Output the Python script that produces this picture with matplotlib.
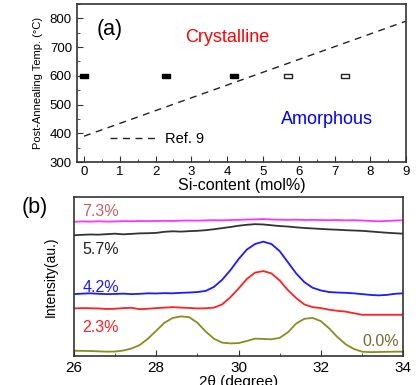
import matplotlib
matplotlib.use("Agg")
import matplotlib.pyplot as plt
from matplotlib import font_manager
from matplotlib.ticker import MultipleLocator

plt.rcParams['font.family'] = ['Liberation Sans', 'DejaVu Sans']

# ---- panel (a) data ----
si_cryst = [0.0, 2.3, 4.2]
t_cryst = [600, 600, 600]
si_amor = [5.7, 7.3]
t_amor = [600, 600]
ref_x = [0, 9]
ref_y = [390, 790]

# ---- panel (b) data ----
two_theta = [26.0, 26.2, 26.4, 26.6, 26.8, 27.0, 27.2, 27.4, 27.6, 27.8,
             28.0, 28.2, 28.4, 28.6, 28.8, 29.0, 29.2, 29.4, 29.6, 29.8,
             30.0, 30.2, 30.4, 30.6, 30.8, 31.0, 31.2, 31.4, 31.6, 31.8,
             32.0, 32.2, 32.4, 32.6, 32.8, 33.0, 33.2, 33.4, 33.6, 33.8, 34.0]
i_00 = [3.4, 3.3, 3.2, 3.0, 2.8, 2.9, 3.5, 4.8, 7.0, 11.0,
        16.0, 21.0, 24.0, 25.0, 24.5, 21.0, 15.5, 11.0, 8.5, 8.0,
        8.2, 9.5, 11.0, 10.8, 10.6, 11.5, 15.0, 20.5, 23.5, 24.0,
        22.0, 17.5, 12.0, 7.5, 4.5, 2.8, 2.5, 2.6, 2.7, 2.8, 2.8]
i_23 = [30.0, 30.2, 30.1, 30.0, 29.6, 29.8, 30.2, 30.4, 29.5, 29.8,
        30.2, 30.5, 30.8, 30.5, 30.3, 30.0, 30.1, 30.5, 32.5, 37.0,
        42.5, 48.5, 52.5, 53.5, 52.0, 47.5, 41.5, 36.5, 32.5, 30.8,
        30.2, 29.2, 28.5, 28.0, 27.0, 26.0, 26.0, 26.0, 26.0, 26.0, 26.0]
i_42 = [39.0, 39.3, 39.5, 39.2, 39.0, 39.1, 39.3, 39.0, 39.2, 39.5,
        39.4, 39.6, 39.5, 39.8, 40.0, 40.3, 41.0, 43.5, 48.0, 54.0,
        61.0, 67.0, 70.5, 72.0, 70.5, 66.0, 59.0, 52.0, 46.5, 43.0,
        41.3, 40.3, 40.0, 39.8, 39.5, 39.0, 38.5, 38.2, 38.5, 39.2, 39.5]
i_57 = [76.0, 76.3, 76.5, 76.4, 76.7, 77.0, 76.6, 76.9, 77.2, 77.3,
        77.5, 78.2, 78.5, 78.3, 78.6, 78.8, 79.2, 79.8, 80.5, 81.2,
        82.0, 82.6, 83.0, 82.8, 82.3, 81.8, 81.5, 81.0, 80.6, 80.3,
        80.0, 79.7, 79.5, 79.2, 79.0, 78.8, 78.4, 78.0, 77.6, 77.3, 77.0]
i_73 = [84.5, 84.7, 84.6, 84.8, 84.6, 84.7, 84.9, 84.8, 85.0, 84.9,
        85.0, 85.1, 85.0, 85.2, 85.3, 85.2, 85.4, 85.5, 85.4, 85.6,
        85.7, 85.9, 86.0, 86.2, 85.9, 85.8, 85.7, 85.8, 85.6, 85.7,
        85.6, 85.5, 85.6, 85.4, 85.5, 85.3, 85.0, 84.8, 85.0, 85.3, 85.4]
labels_b = ["0.0%", "2.3%", "4.2%", "5.7%", "7.3%"]

names = {f.name for f in font_manager.fontManager.ttflist}
if 'Liberation Sans Narrow' in names:
    ylab_font = dict(family=['Liberation Sans Narrow', 'DejaVu Sans'], fontsize=9.5)
else:
    ylab_font = dict(fontsize=8)

fig = plt.figure(figsize=(4.2, 3.85), dpi=100)
frame_c = '#333333'

# ---------------- (a) ----------------
ax1 = fig.add_axes([0.183, 0.579, 0.784, 0.411])
rect = [(-1.7, -1), (1.7, -1), (1.7, 1), (-1.7, 1), (-1.7, -1)]
ax1.plot(ref_x, ref_y, ls=(0, (5, 4)), color='#222222', lw=1.0, label='Ref. 9')
ax1.plot(si_cryst, t_cryst, ls='none', marker=rect, ms=5.5, color='black')
ax1.plot(si_amor, t_amor, ls='none', marker=rect, ms=5.5, mfc='white',
         mec='#222222', mew=1.0)
ax1.set_xlim(-0.2, 9)
ax1.set_ylim(300, 850)
ax1.xaxis.set_major_locator(MultipleLocator(1))
ax1.xaxis.set_minor_locator(MultipleLocator(0.5))
ax1.yaxis.set_major_locator(MultipleLocator(100))
ax1.yaxis.set_minor_locator(MultipleLocator(50))
ax1.tick_params(which='both', direction='in', labelsize=9.5, color=frame_c)
ax1.tick_params(which='major', length=4)
ax1.tick_params(which='minor', length=2.5)
ax1.tick_params(axis='x', pad=3)
for s in ax1.spines.values():
    s.set_linewidth(1.2)
    s.set_color(frame_c)
ax1.set_xlabel('Si-content (mol%)', fontsize=11.5, labelpad=0)
ax1.set_ylabel('Post-Annealing Temp. (\u00b0C)', labelpad=5, **ylab_font)
ax1.text(0.72, 762, '(a)', fontsize=15.5, ha='center', va='center')
ax1.text(4.0, 733, 'Crystalline', fontsize=13, color='#ff0000', ha='center', va='center')
ax1.text(6.8, 447, 'Amorphous', fontsize=13, color='#0000ff', ha='center', va='center')
leg = ax1.legend(loc='lower left', bbox_to_anchor=(0.06, 0.02), frameon=False,
                 fontsize=10.5, handlelength=3.2, handletextpad=0.6)

# ---------------- (b) ----------------
ax2 = fig.add_axes([0.176, 0.075, 0.784, 0.413])
ax2.plot(two_theta, i_00, color='#8b8b1e', lw=1.3)
ax2.plot(two_theta, i_23, color='#ff2020', lw=1.3)
ax2.plot(two_theta, i_42, color='#1a1aff', lw=1.3)
ax2.plot(two_theta, i_57, color='#333333', lw=1.3)
ax2.plot(two_theta, i_73, color='#ff33ff', lw=1.3)
ax2.set_xlim(26, 34)
ax2.set_ylim(0, 100)
ax2.xaxis.set_major_locator(MultipleLocator(2))
ax2.xaxis.set_minor_locator(MultipleLocator(1))
ax2.set_yticks([])
ax2.tick_params(which='both', direction='in', labelsize=11, color=frame_c)
ax2.tick_params(which='major', length=4)
ax2.tick_params(which='minor', length=2.5)
for s in ax2.spines.values():
    s.set_linewidth(1.2)
    s.set_color(frame_c)
ax2.set_xlabel('2\u03b8 (degree)', fontsize=11, labelpad=0)
ax2.set_ylabel('Intensity(au.)', fontsize=10, labelpad=12)
ax2.text(26.2, 91, labels_b[4], fontsize=11.5, color='#c86060', ha='left', va='center')
ax2.text(26.2, 67, labels_b[3], fontsize=11.5, color='#222222', ha='left', va='center')
ax2.text(26.2, 43, labels_b[2], fontsize=11.5, color='#1a1aff', ha='left', va='center')
ax2.text(26.2, 18, labels_b[1], fontsize=11.5, color='#ff2020', ha='left', va='center')
ax2.text(33.9, 9, labels_b[0], fontsize=11.5, color='#6e6e30', ha='right', va='center')
fig.text(0.052, 0.46, '(b)', fontsize=15.5, ha='left', va='center')

fig.savefig('out.png', dpi=100)
